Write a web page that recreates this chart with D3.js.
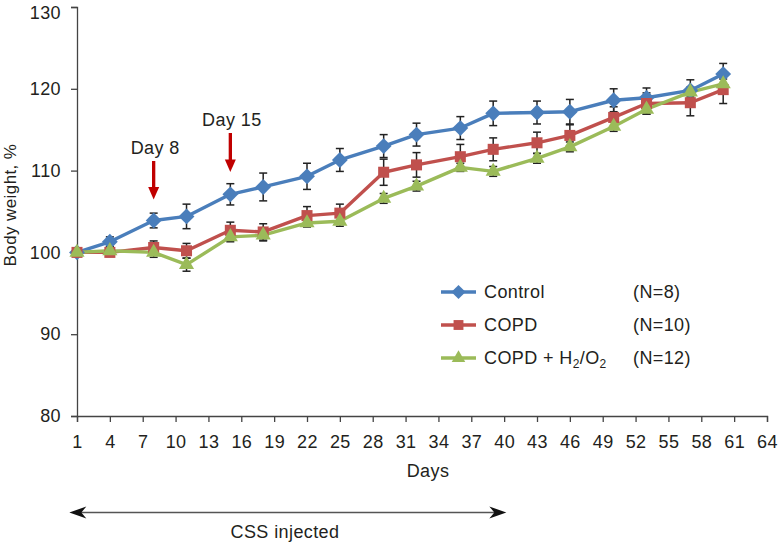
<!DOCTYPE html>
<html><head><meta charset="utf-8">
<script src="https://cdn.jsdelivr.net/npm/d3@7"></script>
<style>body{margin:0;background:#fff}svg{display:block}text{font-family:"Liberation Sans",Arial,sans-serif;fill:#231f20;letter-spacing:0.4px}</style>
</head><body>
<svg id="c" width="778" height="544"></svg>
<script>
const days = [1,4,8,11,15,18,22,25,29,32,36,39,43,46,50,53,57,60];
const control = [100,101.3,103.9,104.4,107.1,108.0,109.3,111.3,113.0,114.4,115.2,117.0,117.1,117.2,118.6,118.9,119.8,121.8];
const controlErr = [0,0.6,0.9,1.5,1.3,1.7,1.6,1.4,1.4,1.4,1.4,1.5,1.4,1.5,1.4,1.2,1.3,1.3];
const copd = [100,100.0,100.6,100.2,102.7,102.5,104.5,104.8,109.8,110.7,111.7,112.6,113.4,114.3,116.5,118.2,118.3,119.9];
const copdErr = [0,0.5,0.8,0.9,1.0,1.0,1.1,1.1,1.6,1.5,1.5,1.4,1.3,1.3,1.3,1.3,1.6,1.7];
const combo = [100,100.2,100.0,98.5,101.9,102.1,103.6,103.8,106.6,108.1,110.4,109.9,111.5,112.9,115.4,117.5,119.6,120.6];
const comboErr = [0,0.5,0.6,0.8,0.6,0.7,0.5,0.6,0.6,0.6,0.5,0.6,0.6,0.6,0.6,0.6,0.6,0.6];
const seriesNames = ["Control","COPD","COPD + H2/O2"];
const seriesN = ["(N=8)","(N=10)","(N=12)"];
const xTicks = d3.range(1,65,3);
const yTicks = [80,90,100,110,120,130];
const injectDays = [8,15];

const svg = d3.select("#c");
const x = d3.scaleLinear().domain([1,64]).range([77,767]);
const y = d3.scaleLinear().domain([80,130]).range([416,7]);

const series = [
  {name:seriesNames[0], n:seriesN[0], vals:control, err:controlErr, color:"#4a7ebb", sym:d3.symbolDiamond2, size:160},
  {name:seriesNames[1], n:seriesN[1], vals:copd, err:copdErr, color:"#c0504d", sym:d3.symbolSquare2, size:155},
  {name:seriesNames[2], n:seriesN[2], vals:combo, err:comboErr, color:"#9bbb59", sym:d3.symbolTriangle2, size:165}
];

// axes
const xAxis = svg.append("g").attr("transform","translate(0,416)")
  .call(d3.axisBottom(x).tickValues(xTicks).tickSize(6).tickPadding(13).tickFormat(d3.format("d")));
const yAxis = svg.append("g").attr("transform","translate(77,0)")
  .call(d3.axisLeft(y).tickValues(yTicks).tickSize(6).tickPadding(10));
[xAxis,yAxis].forEach(a=>{
  a.select(".domain").attr("stroke","#444").attr("stroke-width",1.3);
  a.selectAll(".tick line").attr("stroke","#444").attr("stroke-width",1.3);
  a.selectAll("text").attr("font-size",18).attr("fill","#231f20").attr("font-family","Liberation Sans, Arial, sans-serif");
});
yAxis.selectAll(".tick").filter(d=>d===130).select("text").attr("dy","0.62em");

svg.append("text").attr("x",428).attr("y",477).attr("text-anchor","middle").attr("font-size",18).text("Days");
svg.append("text").attr("transform","translate(16,205) rotate(-90)").attr("text-anchor","middle").attr("font-size",17).text("Body weight, %");

// series
const line = d3.line().x((d,i)=>x(days[i])).y(d=>y(d));
series.forEach(s=>{
  svg.append("path").datum(s.vals).attr("d",line).attr("fill","none").attr("stroke",s.color).attr("stroke-width",3.4).attr("stroke-linejoin","round");
});
series.forEach(s=>{
  const g = svg.append("g").attr("stroke","#222").attr("stroke-width",1.5);
  s.vals.forEach((v,i)=>{
    if(!s.err[i]) return;
    const cx = x(days[i]);
    const y1 = y(v+s.err[i]), y2 = y(v-s.err[i]);
    g.append("line").attr("x1",cx).attr("x2",cx).attr("y1",y1).attr("y2",y2);
    g.append("line").attr("x1",cx-4).attr("x2",cx+4).attr("y1",y1).attr("y2",y1);
    g.append("line").attr("x1",cx-4).attr("x2",cx+4).attr("y1",y2).attr("y2",y2);
  });
});
series.forEach(s=>{
  svg.append("g").selectAll("path").data(s.vals).join("path")
    .attr("transform",(d,i)=>`translate(${x(days[i])},${y(d)})`)
    .attr("d",d3.symbol().type(s.sym).size(s.size)).attr("fill",s.color);
});

// red injection arrows
const arrowTops = [161,133];
injectDays.forEach((d,i)=>{
  const cx = x(d), top = arrowTops[i], tip = i===0?199.5:172;
  svg.append("line").attr("x1",cx).attr("x2",cx).attr("y1",top).attr("y2",tip-12).attr("stroke","#c00000").attr("stroke-width",3.3);
  svg.append("path").attr("d",`M${cx-5.5},${tip-12.5}L${cx+5.5},${tip-12.5}L${cx},${tip}Z`).attr("fill","#c00000");
  svg.append("text").attr("x",cx+1.5).attr("y",top-7).attr("text-anchor","middle").attr("font-size",18).text("Day "+d);
});

// legend
const ly = [292,325,358];
series.forEach((s,i)=>{
  const g = svg.append("g");
  g.append("line").attr("x1",441).attr("x2",476).attr("y1",ly[i]).attr("y2",ly[i]).attr("stroke",s.color).attr("stroke-width",3.4);
  g.append("path").attr("transform",`translate(458.5,${ly[i]})`).attr("d",d3.symbol().type(s.sym).size(s.size*0.8)).attr("fill",s.color);
  const t = g.append("text").attr("x",484).attr("y",ly[i]+6).attr("font-size",18);
  if(i===2){
    t.append("tspan").text("COPD + H");
    t.append("tspan").attr("font-size",12).attr("dy",4).text("2");
    t.append("tspan").attr("dy",-4).text("/O");
    t.append("tspan").attr("font-size",12).attr("dy",4).text("2");
  } else t.text(s.name);
  g.append("text").attr("x",633).attr("y",ly[i]+6).attr("font-size",18).text(s.n);
});

// CSS injected double arrow
const ay = 512.5;
svg.append("line").attr("x1",x(0.3)+8).attr("x2",x(40.2)-8).attr("y1",ay).attr("y2",ay).attr("stroke","#555").attr("stroke-width",1.6);
svg.append("path").attr("d",`M${x(0.3)},${ay}L${x(0.3)+17},${ay-6}L${x(0.3)+12},${ay}L${x(0.3)+17},${ay+6}Z`).attr("fill","#111");
svg.append("path").attr("d",`M${x(40.2)},${ay}L${x(40.2)-17},${ay-6}L${x(40.2)-12},${ay}L${x(40.2)-17},${ay+6}Z`).attr("fill","#111");
svg.append("text").attr("x",285).attr("y",538).attr("text-anchor","middle").attr("font-size",18).text("CSS injected");
</script>
</body></html>
